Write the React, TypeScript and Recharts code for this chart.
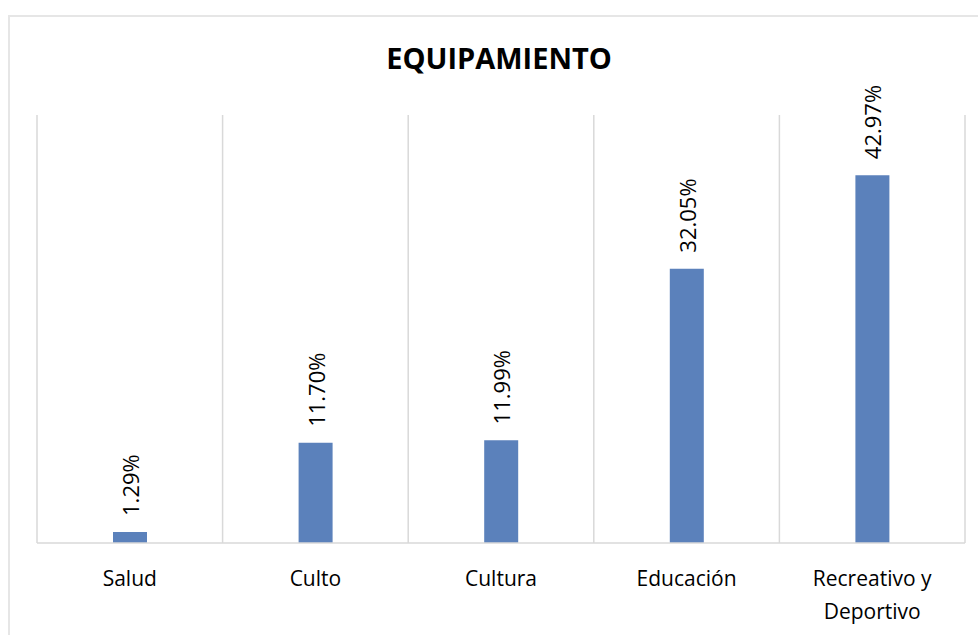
import { Bar, BarChart, CartesianGrid, LabelList, XAxis, YAxis } from 'recharts';

const categories = ['Salud', 'Culto', 'Cultura', 'Educación', 'Recreativo y\nDeportivo'];
const shares = [1.29, 11.7, 11.99, 32.05, 42.97];
const yDomain = [0, 50];

const data = categories.map((name, i) => ({ name, value: shares[i] }));

const FONT = '"Open Sans", "DejaVu Sans", sans-serif';
const GRID = '#d9d9d9';
const BLUE = '#5b81bb';

function CategoryTick({ x, y, payload }: { x?: number; y?: number; payload?: { value: string } }) {
  const lines = String(payload?.value ?? '').split('\n');
  return (
    <text x={x} y={(y ?? 0) + 27} textAnchor="middle" fontFamily={FONT} fontSize={21} fill="#000">
      {lines.map((line, i) => (
        <tspan key={i} x={x} dy={i === 0 ? 0 : 33} dominantBaseline="central">
          {line}
        </tspan>
      ))}
    </text>
  );
}

function ValueLabel(props: { x?: number; y?: number; width?: number; value?: number }) {
  const cx = Number(props.x) + Number(props.width) / 2;
  const ty = Number(props.y) - 16;
  return (
    <text
      x={cx}
      y={ty}
      transform={`rotate(-90 ${cx} ${ty})`}
      textAnchor="start"
      dominantBaseline="central"
      fontFamily={FONT}
      fontSize={22}
      fill="#000"
    >
      {Number(props.value).toFixed(2)}%
    </text>
  );
}

// gridlines sit between categories, like Excel, not at the tick centres
function boundaries({ offset }: { offset: { left: number; width: number } }) {
  const step = offset.width / categories.length;
  return Array.from({ length: categories.length + 1 }, (_, i) => offset.left + i * step);
}

export default function App() {
  return (
    <div style={{ position: 'fixed', left: 0, top: 0, width: 978, height: 635, overflow: 'hidden', background: '#fff' }}>
      <div
        style={{
          position: 'absolute',
          left: 8,
          top: 15,
          width: 1000,
          height: 700,
          border: '2px solid #e6e6e6',
          boxSizing: 'border-box',
        }}
      />
      <div
        style={{
          position: 'absolute',
          left: 0,
          width: 998,
          top: 38,
          textAlign: 'center',
          fontFamily: FONT,
          fontWeight: 700,
          fontSize: 29,
          color: '#000',
        }}
      >
        EQUIPAMIENTO
      </div>
      <div style={{ position: 'absolute', left: 0, top: 0 }}>
        <BarChart width={978} height={635} data={data} margin={{ top: 115, right: 13, left: 37, bottom: 32 }}>
          <CartesianGrid
            horizontal={false}
            stroke={GRID}
            strokeWidth={1.5}
            verticalCoordinatesGenerator={boundaries as any}
          />
          <XAxis
            dataKey="name"
            interval={0}
            height={60}
            tickLine={false}
            axisLine={{ stroke: GRID, strokeWidth: 1.5 }}
            tick={<CategoryTick />}
          />
          <YAxis hide domain={yDomain} />
          <Bar dataKey="value" fill={BLUE} barSize={34} isAnimationActive={false}>
            <LabelList dataKey="value" content={<ValueLabel />} />
          </Bar>
        </BarChart>
      </div>
    </div>
  );
}
